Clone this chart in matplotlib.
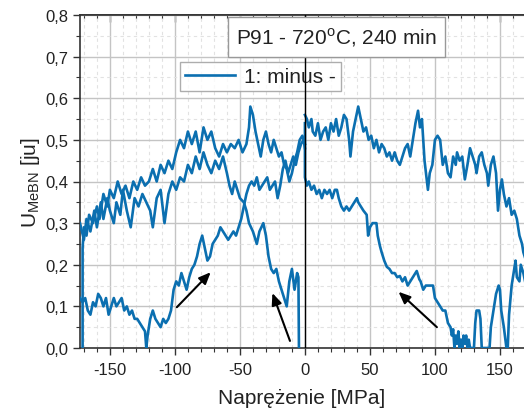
import matplotlib
matplotlib.use("Agg")
import matplotlib.pyplot as plt
from matplotlib.ticker import MultipleLocator, FuncFormatter, NullFormatter

plt.rcParams['font.family'] = ['Liberation Sans', 'DejaVu Sans']

# ---- data ----
# upper-left branch
p_x = [-171, -171, -170, -168, -166, -163, -160, -158, -155, -152, -150, -147, -144, -141, -138,
       -135, -132, -129, -126, -123, -120, -117, -114, -111, -108, -105, -102, -99, -96, -93,
       -90, -87, -84, -81, -78, -75, -72, -69, -66, -63, -60, -57, -54, -51, -48, -45, -43,
       -42, -40, -38, -36, -34, -32, -30, -28, -26, -24, -22, -20, -18, -16, -14, -12, -10,
       -8, -6, -4, -2, 0]
p_y = [0.0, 0.24, 0.29, 0.27, 0.32, 0.30, 0.34, 0.31, 0.37, 0.34, 0.38, 0.36, 0.40, 0.37, 0.39,
       0.36, 0.40, 0.38, 0.41, 0.39, 0.40, 0.43, 0.40, 0.44, 0.42, 0.45, 0.43, 0.47, 0.50, 0.48,
       0.52, 0.49, 0.52, 0.47, 0.53, 0.50, 0.52, 0.48, 0.46, 0.49, 0.47, 0.49, 0.48, 0.50, 0.47,
       0.49, 0.53, 0.58, 0.56, 0.52, 0.49, 0.46, 0.50, 0.52, 0.49, 0.47, 0.50, 0.48, 0.46, 0.47,
       0.44, 0.43, 0.40, 0.42, 0.45, 0.47, 0.50, 0.51, 0.49]

# middle-left branch (descending to zero near -5 MPa)
q_x = [-173, -170, -168, -165, -162, -160, -157, -155, -152, -150, -147, -145, -142, -140, -137,
       -134, -131, -128, -125, -122, -119, -117, -114, -111, -108, -105, -102, -99, -96, -93,
       -90, -87, -84, -81, -78, -75, -72, -69, -66, -63, -60, -58, -56, -54, -52, -50, -47,
       -45, -43, -40, -37, -35, -32, -30, -28, -26, -24, -22, -20, -18, -16, -14, -12, -10,
       -8, -6, -5, -4.6]
q_y = [0.30, 0.26, 0.31, 0.28, 0.33, 0.29, 0.35, 0.31, 0.36, 0.33, 0.30, 0.35, 0.32, 0.38, 0.33,
       0.29, 0.36, 0.34, 0.37, 0.35, 0.33, 0.29, 0.36, 0.38, 0.30, 0.37, 0.40, 0.38, 0.41, 0.40,
       0.44, 0.42, 0.46, 0.43, 0.47, 0.44, 0.42, 0.45, 0.43, 0.46, 0.42, 0.39, 0.37, 0.40, 0.38,
       0.36, 0.35, 0.33, 0.30, 0.28, 0.25, 0.28, 0.30, 0.27, 0.22, 0.19, 0.18, 0.19, 0.16, 0.14,
       0.12, 0.10, 0.16, 0.19, 0.14, 0.18, 0.17, 0.0]

# lower-left branch (rising)
r_x = [-173, -171, -169, -167, -165, -163, -161, -159, -157, -155, -153, -151, -149, -147, -145,
       -143, -141, -139, -137, -135, -133, -131, -129, -127, -125, -123, -122, -121, -119, -117,
       -115, -113, -111, -109, -107, -105, -103, -101, -99, -97, -95, -93, -91, -89, -87, -85,
       -83, -81, -79, -77, -75, -73, -71, -69, -67, -65, -63, -61, -59, -57, -55, -53, -51,
       -49, -47, -45, -43, -41, -39, -37, -35, -33, -31, -29, -27, -25, -23, -21, -19, -17,
       -15, -13, -11, -9, -7, -5, -3, -1, 0]
r_y = [0.12, 0.11, 0.12, 0.09, 0.08, 0.11, 0.10, 0.13, 0.12, 0.10, 0.12, 0.08, 0.10, 0.12, 0.10,
       0.11, 0.12, 0.09, 0.10, 0.08, 0.09, 0.07, 0.07, 0.06, 0.05, 0.04, 0.0, 0.03, 0.07, 0.09,
       0.07, 0.06, 0.05, 0.07, 0.06, 0.07, 0.09, 0.14, 0.16, 0.15, 0.18, 0.16, 0.14, 0.17, 0.19,
       0.20, 0.22, 0.25, 0.27, 0.24, 0.21, 0.22, 0.25, 0.26, 0.27, 0.29, 0.28, 0.27, 0.26, 0.27,
       0.28, 0.27, 0.29, 0.31, 0.34, 0.37, 0.39, 0.40, 0.39, 0.41, 0.38, 0.39, 0.40, 0.41, 0.38,
       0.39, 0.40, 0.36, 0.39, 0.43, 0.45, 0.42, 0.44, 0.46, 0.44, 0.47, 0.49, 0.50, 0.48]

# upper-right branch
s_x = [0, 1.5, 3, 5, 6, 8, 10, 12, 14, 16, 18, 20, 22, 24, 26, 28, 30, 32, 34, 35, 37, 39, 41,
       43, 45, 47, 49, 51, 53, 55, 57, 59, 61, 63, 65, 67, 69, 71, 73, 75, 77, 79, 81, 83, 85,
       87, 88.5, 90, 92, 94.6, 96, 98, 100, 102, 104, 106, 108, 110, 112, 114, 116, 117, 119,
       121, 123, 125, 127, 129, 131, 132, 134, 136, 138, 140, 141, 143, 145, 147, 148.5, 150,
       151.5, 153, 155, 157, 159, 161, 163, 165, 167, 168, 170]
s_y = [0.56, 0.55, 0.53, 0.55, 0.52, 0.51, 0.54, 0.50, 0.52, 0.53, 0.50, 0.54, 0.52, 0.55, 0.51,
       0.53, 0.56, 0.55, 0.50, 0.46, 0.52, 0.55, 0.58, 0.55, 0.52, 0.53, 0.50, 0.51, 0.48, 0.50,
       0.47, 0.49, 0.48, 0.46, 0.47, 0.45, 0.47, 0.45, 0.44, 0.46, 0.48, 0.49, 0.46, 0.50, 0.54,
       0.57, 0.53, 0.55, 0.45, 0.38, 0.42, 0.44, 0.50, 0.51, 0.50, 0.44, 0.46, 0.42, 0.41, 0.46,
       0.44, 0.47, 0.45, 0.46, 0.405, 0.44, 0.48, 0.46, 0.44, 0.42, 0.46, 0.47, 0.44, 0.42, 0.39,
       0.44, 0.46, 0.42, 0.33, 0.38, 0.405, 0.37, 0.34, 0.36, 0.32, 0.33, 0.31, 0.27, 0.25, 0.23,
       0.21]

# lower-right branch
t_x = [0, 0, 1.5, 3, 5, 7, 9, 11, 13, 15, 17, 19, 21, 23, 24.6, 26, 28, 30, 32, 34, 36, 38, 40,
       41, 43, 45, 47.5, 48.6, 50, 52, 55, 56, 57.7, 59, 61, 63, 65, 67, 69, 71, 73, 75, 77,
       79, 81, 83, 86, 88, 89, 91, 93, 96, 98.5, 100, 102, 104, 106, 108, 110, 112, 113, 114,
       115, 116, 117, 118, 119, 120, 121, 122, 123, 124, 125, 126, 127, 128, 130, 131, 132,
       134, 135, 136, 138, 140, 142, 143, 145, 147, 149, 150, 151, 153, 155, 156, 157, 159,
       161, 162, 163, 165, 166, 168, 170]
t_y = [0.54, 0.41, 0.39, 0.40, 0.38, 0.39, 0.37, 0.38, 0.36, 0.38, 0.37, 0.38, 0.36, 0.38, 0.38,
       0.36, 0.34, 0.33, 0.34, 0.33, 0.34, 0.35, 0.36, 0.35, 0.34, 0.33, 0.32, 0.27, 0.29, 0.30,
       0.30, 0.27, 0.245, 0.23, 0.21, 0.195, 0.19, 0.18, 0.18, 0.17, 0.173, 0.16, 0.17, 0.15,
       0.16, 0.17, 0.185, 0.165, 0.16, 0.14, 0.15, 0.15, 0.15, 0.12, 0.11, 0.10, 0.09, 0.09,
       0.06, 0.05, 0.03, 0.045, 0.0, 0.03, 0.01, 0.04, 0.0, 0.02, 0.0, 0.03, 0.01, 0.03, 0.0,
       0.02, 0.0, 0.0, 0.0, 0.06, 0.09, 0.09, 0.07, 0.0, 0.0, 0.0, 0.0, 0.05, 0.09, 0.13, 0.15,
       0.14, 0.09, 0.05, 0.0, 0.0, 0.08, 0.15, 0.19, 0.21, 0.17, 0.16, 0.20, 0.18, 0.15]

# arrows: (tail_x, tail_y, head_x, head_y)
arrows = [(-98.5, 0.098, -72.5, 0.182),
          (-11.5, 0.017, -25.0, 0.132),
          (101.5, 0.050, 72.0, 0.135)]

title_text = "P91 - 720$^{\\mathregular{o}}$C, 240 min"
legend_label = "1: minus -"
x_label = "Naprężenie [MPa]"
y_label = "U$_{\\mathregular{MeBN}}$ [ju]"
x_ticks = [-150, -100, -50, 0, 50, 100, 150]
y_ticks = [0.0, 0.1, 0.2, 0.3, 0.4, 0.5, 0.6, 0.7, 0.8]

blue = '#0b6fb0'
dark = '#333333'

fig = plt.figure(figsize=(5.24, 4.14), dpi=100)
ax = fig.add_axes([80/524, 1-349/414, 1-80/524, (349-16)/414])

ax.set_xlim(-173, 168.5)
ax.set_ylim(0.0, 0.8)

for xs, ys in [(p_x, p_y), (q_x, q_y), (r_x, r_y), (s_x, s_y), (t_x, t_y)]:
    ax.plot(xs, ys, color=blue, lw=1.9, solid_joinstyle='round', zorder=3)

ax.axvline(0, color='black', lw=1.0, zorder=7)

for tx, ty, hx, hy in arrows:
    ax.annotate('', xy=(hx, hy), xytext=(tx, ty),
                arrowprops=dict(arrowstyle='-|>,head_length=0.7,head_width=0.3',
                                color='black', lw=1.5, shrinkA=0, shrinkB=0), zorder=5)

ax.set_xticks(x_ticks)
ax.set_yticks(y_ticks)
ax.xaxis.set_minor_locator(MultipleLocator(10))
ax.yaxis.set_minor_locator(MultipleLocator(0.05))
ax.xaxis.set_major_formatter(FuncFormatter(lambda v, p: f"{v:.0f}"))
ax.yaxis.set_major_formatter(FuncFormatter(lambda v, p: f"{v:.1f}".replace('.', ',')))

ax.grid(which='major', color='#c4c4c4', lw=1.0, zorder=0)
ax.grid(which='minor', color='#e2e2e2', lw=0.8, ls=(0, (3, 3)), zorder=0)
ax.set_axisbelow(True)

ax.tick_params(axis='both', which='major', labelsize=12, direction='out', length=5, width=1,
               color=dark, labelcolor='#222222')
ax.tick_params(axis='both', which='minor', direction='out', length=3, width=0.8, color=dark)
ax.tick_params(axis='x', which='major', pad=5)

# top axis with inward ticks
top = ax.secondary_xaxis('top')
top.set_xticks(x_ticks)
top.xaxis.set_minor_locator(MultipleLocator(10))
top.xaxis.set_major_formatter(NullFormatter())
top.tick_params(which='major', direction='in', length=5, width=1, color=dark)
top.tick_params(which='minor', direction='in', length=3, width=0.8, color=dark)
top.spines['top'].set_color(dark)
top.spines['top'].set_linewidth(1.2)

for sp in ['left', 'bottom', 'top']:
    ax.spines[sp].set_color(dark)
    ax.spines[sp].set_linewidth(1.2)
ax.spines['right'].set_visible(False)

ax.set_xlabel(x_label, fontsize=15, color='#222222', labelpad=8)
ax.set_ylabel(y_label, fontsize=15, color='#222222', labelpad=2)

# title box (above the zero line)
ax.text(0.578, 0.934, title_text, transform=ax.transAxes, ha='center', va='center',
        fontsize=15, color='#222222',
        bbox=dict(boxstyle='square,pad=0.4', fc='white', ec='#999999', lw=1.0), zorder=8)

# legend
leg = ax.legend([plt.Line2D([], [], color=blue, lw=1.9)], [legend_label],
                loc='upper left', bbox_to_anchor=((180-80)/444, (349-63)/333),
                fontsize=15, frameon=True, fancybox=False, edgecolor='#999999',
                handlelength=2.4, handletextpad=0.4, borderpad=0.25, borderaxespad=0)
leg.get_frame().set_linewidth(1.0)
for txt in leg.get_texts():
    txt.set_color('#222222')
leg.set_zorder(6)

fig.savefig('out.png', dpi=100)
